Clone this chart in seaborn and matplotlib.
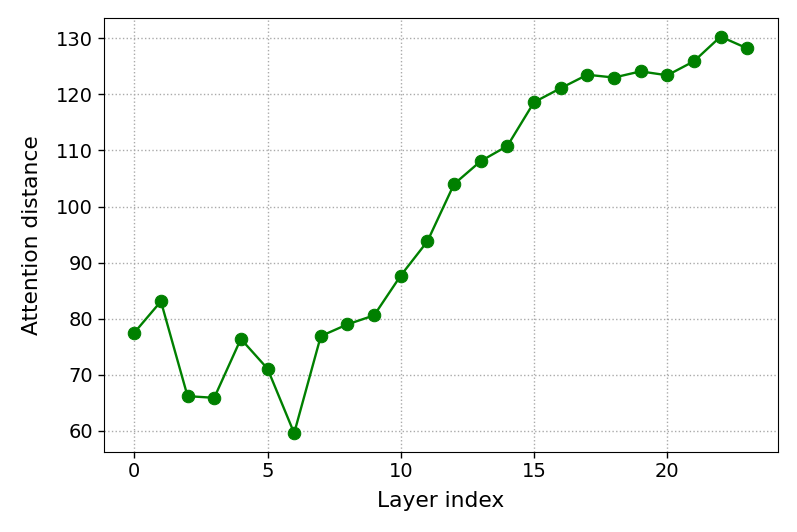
import matplotlib
matplotlib.use("Agg")
import matplotlib.pyplot as plt
import seaborn as sns
import pandas as pd

layers = list(range(24))
distance = [77.5, 83.1, 66.2, 65.9, 76.4, 71.1, 59.6, 76.9, 79.0, 80.6,
            87.7, 93.8, 104.0, 108.1, 110.8, 118.6, 121.1, 123.5, 123.0,
            124.1, 123.4, 125.9, 130.3, 128.2]

df = pd.DataFrame({"layer": layers, "distance": distance})

sns.set_style("ticks")
plt.rcParams["font.family"] = ["DejaVu Sans"]
plt.rcParams["text.color"] = "black"
plt.rcParams["axes.labelcolor"] = "black"
plt.rcParams["xtick.color"] = "black"
plt.rcParams["ytick.color"] = "black"

fig, ax = plt.subplots(figsize=(7.97, 5.32), dpi=100)
sns.lineplot(data=df, x="layer", y="distance", color="green", marker="o",
             markersize=9, linewidth=1.7, markeredgecolor="green", ax=ax)

ax.grid(True, linestyle=":", color="#aaaaaa", linewidth=1)
ax.set_xticks([0, 5, 10, 15, 20])
ax.set_yticks([60, 70, 80, 90, 100, 110, 120, 130])
ax.tick_params(labelsize=14, direction="out", length=4, width=1)
for s in ax.spines.values():
    s.set_color("black")
ax.set_xlabel("Layer index", fontsize=15.7, labelpad=7)
ax.set_ylabel("Attention distance", fontsize=15.7, labelpad=10)
ax.set_xlim(-1.15, 24.15)
ax.set_ylim(56.3, 133.6)

plt.subplots_adjust(left=0.13, right=0.976, top=0.966, bottom=0.151)
plt.savefig("out.png", dpi=100)
